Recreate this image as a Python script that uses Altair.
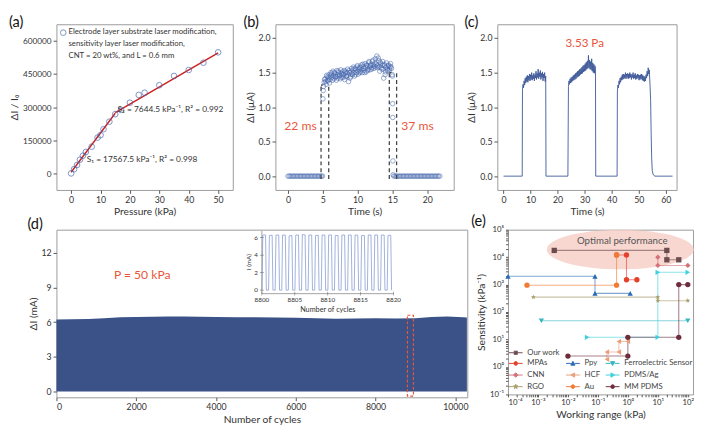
import altair as alt
import pandas as pd

FONT = "Lato"
NAVY = "#3a5288"
CIRC = "#4566ad"
RED = "#e8553a"
FIT = "#cc2222"
DASH = "#444444"

# ---------------- (a) ----------------
a_pressure = [0, 1, 2, 3, 4, 5, 7, 9, 10, 11, 13, 15, 17, 20, 23, 25, 30, 35, 40, 45, 50]
a_ratio = [0, 19000, 38000, 62000, 80000, 97000, 121000, 162000, 173000, 200000, 234000,
           268000, 287000, 320000, 355000, 365000, 399000, 441000, 468000, 501000, 548000]
a_fit_seg = ["S1", "S1", "S2", "S2"]
a_fit_p = [0, 15, 15, 50]
a_fit_v = [5000, 272000, 275000, 545000]
a_legend_text = ["Electrode layer substrate laser modification,\nsensitivity layer laser modification,\nCNT = 20 wt%, and L = 0.6 mm"]
a_legend_mark_p = [-2.7]
a_legend_mark_v = [637000]
a_legend_text_p = [-0.9]
a_legend_text_v = [656000]
a_notes = ["S\u2082 = 7644.5 kPa\u207b\u00b9, R\u00b2 = 0.992", "S\u2081 = 17567.5 kPa\u207b\u00b9, R\u00b2 = 0.998"]
a_note_p = [15.8, 5.3]
a_note_v = [289000, 65000]
a_xticks = [0, 10, 20, 30, 40, 50]
a_yticks = [0, 150000, 300000, 450000, 600000]

# ---------------- (b) ----------------
b_t_base1 = [0.0, 0.2, 0.4, 0.6, 0.8, 1.0, 1.2, 1.4, 1.6, 1.8, 2.0, 2.2, 2.4, 2.6, 2.8, 3.0,
             3.2, 3.4, 3.6, 3.8, 4.0, 4.2, 4.4, 4.6, 4.8]
b_t_rise = [4.95, 5.02, 5.06, 5.10]
b_v_rise = [0.0, 1.12, 1.24, 1.30]
b_t_plat = [5.20, 5.34, 5.48, 5.62, 5.76, 5.90, 6.04, 6.18, 6.32, 6.46,
            6.60, 6.74, 6.88, 7.02, 7.16, 7.30, 7.44, 7.58, 7.72, 7.86,
            8.00, 8.14, 8.28, 8.42, 8.56, 8.70, 8.84, 8.98, 9.12, 9.26,
            9.40, 9.54, 9.68, 9.82, 9.96, 10.10, 10.24, 10.38, 10.52, 10.66,
            10.80, 10.94, 11.08, 11.22, 11.36, 11.50, 11.64, 11.78, 11.92, 12.06,
            12.20, 12.34, 12.48, 12.62, 12.76, 12.90, 13.04, 13.18, 13.32, 13.46,
            13.60, 13.74, 13.88, 14.02, 14.16, 14.30, 14.44, 14.58, 14.72, 14.86]
b_v_plat = [1.36, 1.41, 1.33, 1.44, 1.38, 1.47, 1.40, 1.50, 1.43, 1.52,
            1.41, 1.49, 1.44, 1.53, 1.42, 1.50, 1.46, 1.54, 1.43, 1.51,
            1.47, 1.40, 1.52, 1.45, 1.55, 1.37, 1.50, 1.44, 1.56, 1.47,
            1.58, 1.45, 1.55, 1.50, 1.60, 1.48, 1.57, 1.52, 1.61, 1.50,
            1.59, 1.53, 1.63, 1.51, 1.60, 1.55, 1.66, 1.54, 1.62, 1.57,
            1.68, 1.56, 1.64, 1.58, 1.74, 1.57, 1.67, 1.52, 1.63, 1.55,
            1.66, 1.42, 1.60, 1.51, 1.64, 1.53, 1.61, 1.55, 1.63, 1.56]
b_t_plat2 = [5.27, 5.41, 5.55, 5.69, 5.83, 5.97, 6.11, 6.25, 6.39, 6.53,
             6.67, 6.81, 6.95, 7.09, 7.23, 7.37, 7.51, 7.65, 7.79, 7.93,
             8.07, 8.21, 8.35, 8.49, 8.63, 8.77, 8.91, 9.05, 9.19, 9.33,
             9.47, 9.61, 9.75, 9.89, 10.03, 10.17, 10.31, 10.45, 10.59, 10.73,
             10.87, 11.01, 11.15, 11.29, 11.43, 11.57, 11.71, 11.85, 11.99, 12.13,
             12.27, 12.41, 12.55, 12.69, 12.83, 12.97, 13.11, 13.25, 13.39, 13.53,
             13.67, 13.81, 13.95, 14.09, 14.23, 14.37, 14.51, 14.65, 14.79]
b_v_plat2 = [1.40, 1.37, 1.46, 1.39, 1.43, 1.35, 1.45, 1.48, 1.39, 1.46,
             1.50, 1.44, 1.39, 1.47, 1.52, 1.45, 1.41, 1.49, 1.47, 1.43,
             1.53, 1.49, 1.44, 1.50, 1.46, 1.53, 1.42, 1.51, 1.48, 1.54,
             1.50, 1.56, 1.47, 1.58, 1.52, 1.55, 1.50, 1.58, 1.54, 1.62,
             1.56, 1.50, 1.57, 1.61, 1.53, 1.64, 1.58, 1.60, 1.55, 1.66,
             1.61, 1.59, 1.70, 1.62, 1.60, 1.71, 1.59, 1.65, 1.57, 1.61,
             1.55, 1.62, 1.47, 1.58, 1.55, 1.60, 1.52, 1.59, 1.58]
b_t_fall = [14.95, 15.00, 15.03, 15.05, 15.07, 15.10]
b_v_fall = [1.47, 1.45, 1.05, 0.85, 0.22, 0.02]
b_t_base2 = [15.2, 15.4, 15.6, 15.8, 16.0, 16.2, 16.4, 16.6, 16.8, 17.0, 17.2, 17.4, 17.6, 17.8,
             18.0, 18.2, 18.4, 18.6, 18.8, 19.0, 19.2, 19.4, 19.6, 19.8, 20.0, 20.2, 20.4, 20.6,
             20.8, 21.0, 21.2, 21.4, 21.6, 21.8]
b_dash_x = [4.75, 5.85, 14.55, 15.6]
b_dash_top = [1.32, 1.30, 1.50, 1.50]
b_dash_bottom = [-0.04, -0.04, -0.04, -0.04]
b_cap_x1 = [4.75, 14.55]
b_cap_x2 = [5.0, 14.85]
b_cap_y = [1.32, 1.50]
b_notes = ["22 ms", "37 ms"]
b_note_t = [1.8, 18.6]
b_note_v = [0.72, 0.73]
b_xticks = [0, 5, 10, 15, 20]
b_yticks = [0.0, 0.5, 1.0, 1.5, 2.0]

# ---------------- (c) ----------------
c_t_p1 = [7.0, 7.2, 7.4, 7.6, 7.8, 8.0, 8.2, 8.4, 8.6, 8.8, 9.0, 9.2, 9.4, 9.6, 9.8, 10.0,
          10.2, 10.4, 10.6, 10.8, 11.0, 11.2, 11.4, 11.6, 11.8, 12.0, 12.2, 12.4, 12.6, 12.8,
          13.0, 13.2, 13.4, 13.6, 13.8, 14.0, 14.2, 14.4, 14.6, 14.8, 15.0, 15.2, 15.4, 15.6]
c_v_p1 = [1.25, 1.33, 1.28, 1.38, 1.32, 1.42, 1.35, 1.44, 1.37, 1.46, 1.36, 1.45, 1.39, 1.48,
          1.38, 1.47, 1.40, 1.50, 1.39, 1.46, 1.41, 1.49, 1.38, 1.47, 1.42, 1.52, 1.40, 1.49,
          1.43, 1.55, 1.41, 1.50, 1.44, 1.53, 1.40, 1.49, 1.43, 1.51, 1.38, 1.48, 1.42, 1.50,
          1.37, 1.45]
c_t_p2 = [24.0, 24.2, 24.4, 24.6, 24.8, 25.0, 25.2, 25.4, 25.6, 25.8, 26.0, 26.2, 26.4, 26.6,
          26.8, 27.0, 27.2, 27.4, 27.6, 27.8, 28.0, 28.2, 28.4, 28.6, 28.8, 29.0, 29.2, 29.4,
          29.6, 29.8, 30.0, 30.2, 30.4, 30.6, 30.8, 31.0, 31.2, 31.4, 31.6, 31.8, 32.0, 32.2,
          32.4, 32.6, 32.8, 33.0, 33.2, 33.4, 33.6, 33.8, 34.0]
c_v_p2 = [1.30, 1.38, 1.33, 1.41, 1.35, 1.43, 1.36, 1.44, 1.38, 1.46,
          1.39, 1.47, 1.40, 1.49, 1.41, 1.50, 1.43, 1.52, 1.44, 1.53,
          1.45, 1.55, 1.47, 1.56, 1.48, 1.58, 1.49, 1.60, 1.51, 1.61,
          1.52, 1.63, 1.53, 1.65, 1.55, 1.67, 1.56, 1.75, 1.57, 1.68,
          1.55, 1.66, 1.54, 1.70, 1.52, 1.64, 1.50, 1.62, 1.49, 1.60, 1.55]
c_t_p3 = [42.1, 42.3, 42.5, 42.7, 42.9, 43.1, 43.3, 43.5, 43.7, 43.9, 44.1, 44.3, 44.5, 44.7,
          44.9, 45.1, 45.3, 45.5, 45.7, 45.9, 46.1, 46.3, 46.5, 46.7, 46.9, 47.1, 47.3, 47.5,
          47.7, 47.9, 48.1, 48.3, 48.5, 48.7, 48.9, 49.1, 49.3, 49.5, 49.7, 49.9, 50.1, 50.3,
          50.5, 50.7, 50.9, 51.1, 51.3, 51.5, 51.7, 51.9, 52.1, 52.3, 52.5, 52.7, 52.9, 53.1,
          53.3, 53.5, 53.7, 53.9]
c_v_p3 = [1.22, 1.32, 1.28, 1.38, 1.33, 1.42, 1.36, 1.44, 1.39, 1.47,
          1.40, 1.48, 1.41, 1.47, 1.42, 1.50, 1.41, 1.48, 1.43, 1.49,
          1.41, 1.48, 1.42, 1.50, 1.43, 1.48, 1.40, 1.47, 1.43, 1.50,
          1.41, 1.47, 1.42, 1.49, 1.40, 1.46, 1.41, 1.48, 1.42, 1.47,
          1.39, 1.46, 1.40, 1.47, 1.41, 1.48, 1.39, 1.46, 1.38, 1.45,
          1.37, 1.44, 1.38, 1.47, 1.42, 1.52, 1.45, 1.57, 1.48, 1.54]
c_t_gaps = [[0.0, 6.9], [15.7, 23.8], [34.1, 42.0]]
c_t_tail = [54.2, 54.4, 54.6, 54.8, 55.0, 55.3, 55.6, 56.0, 62.5]
c_v_tail = [1.30, 1.10, 0.60, 0.25, 0.08, 0.03, 0.01, 0.0, 0.0]
c_xticks = [0, 10, 20, 30, 40, 50, 60]

# ---------------- (d) ----------------
d_cycles = [0, 400, 800, 1200, 1600, 2000, 2400, 2800, 3200, 3600, 4000, 4500, 5000, 5500,
            6000, 6500, 7000, 7500, 8000, 8500, 9000, 9400, 9800, 10200, 10290]
d_top = [6.24, 6.26, 6.28, 6.33, 6.42, 6.44, 6.47, 6.50, 6.49, 6.46, 6.44, 6.43, 6.43, 6.41,
         6.38, 6.34, 6.29, 6.31, 6.33, 6.31, 6.34, 6.44, 6.49, 6.43, 6.40]
d_box_x = [8800]
d_box_x2 = [8950]
d_box_y = [-0.4]
d_box_y2 = [6.6]
d_xticks = [0, 2000, 4000, 6000, 8000, 10000]
d_yticks = [0, 3, 6, 9, 12]
ins_cycle = [8800.0,
             8800.02, 8800.14, 8800.56, 8800.68, 8801.02, 8801.14, 8801.56, 8801.68,
             8802.02, 8802.14, 8802.56, 8802.68, 8803.02, 8803.14, 8803.56, 8803.68,
             8804.02, 8804.14, 8804.56, 8804.68, 8805.02, 8805.14, 8805.56, 8805.68,
             8806.02, 8806.14, 8806.56, 8806.68, 8807.02, 8807.14, 8807.56, 8807.68,
             8808.02, 8808.14, 8808.56, 8808.68, 8809.02, 8809.14, 8809.56, 8809.68,
             8810.02, 8810.14, 8810.56, 8810.68, 8811.02, 8811.14, 8811.56, 8811.68,
             8812.02, 8812.14, 8812.56, 8812.68, 8813.02, 8813.14, 8813.56, 8813.68,
             8814.02, 8814.14, 8814.56, 8814.68, 8815.02, 8815.14, 8815.56, 8815.68,
             8816.02, 8816.14, 8816.56, 8816.68, 8817.02, 8817.14, 8817.56, 8817.68,
             8818.02, 8818.14, 8818.56, 8818.68, 8819.02, 8819.14, 8819.56, 8819.68]
ins_current = [0.0,
               0, 6.30, 6.30, 0, 0, 6.25, 6.28, 0,
               0, 6.30, 6.30, 0, 0, 6.30, 6.28, 0,
               0, 6.20, 6.25, 0, 0, 6.30, 6.30, 0,
               0, 6.35, 6.32, 0, 0, 6.30, 6.30, 0,
               0, 6.25, 6.28, 0, 0, 6.30, 6.30, 0,
               0, 6.30, 6.30, 0, 0, 6.25, 6.25, 0,
               0, 6.30, 6.30, 0, 0, 6.30, 6.30, 0,
               0, 6.30, 6.28, 0, 0, 6.25, 6.25, 0,
               0, 6.30, 6.30, 0, 0, 6.30, 6.30, 0,
               0, 6.30, 6.30, 0, 0, 6.25, 6.28, 0]
ins_xticks = [8800, 8805, 8810, 8815, 8820]
ins_yticks = [0, 2, 4, 6]
ins_xmin, ins_xmax = 8800, 8820
ins_ymin, ins_ymax = -0.4, 6.8

# ---------------- (e) ----------------
e_series = {
    "Our work": ([0.0035, 20, 20, 50], [17600, 17600, 8000, 8000]),
    "MPAs": ([0.42, 0.9, 0.9, 2.0], [12000, 12000, 1500, 1500]),
    "Ppy": ([0.0001, 0.08, 0.08, 1.2], [2000, 2000, 480, 480]),
    "Ferroelectric Sensor": ([0.0013, 100], [48, 48]),
    "CNN": ([10, 10, 100], [10000, 5000, 5000]),
    "HCF": ([0.2, 0.2, 0.5, 0.5, 1.0], [1.9, 3.5, 3.5, 8.5, 8.5]),
    "PDMS/Ag": ([0.044, 10, 10, 100], [12, 12, 2800, 2800]),
    "RGO": ([0.0007, 10, 10, 100], [350, 350, 260, 260]),
    "Au": ([0.00043, 0.42, 0.42], [950, 950, 12000]),
    "MM PDMS": ([0.01, 1, 1, 50, 50, 100], [2.5, 2.5, 12, 12, 1000, 1000]),
}
e_names = ["Our work", "MPAs", "Ppy", "Ferroelectric Sensor", "CNN", "HCF", "PDMS/Ag", "RGO", "Au", "MM PDMS"]
e_colors = ["#6d4c4f", "#e5402b", "#2a6ab5", "#36b5c2", "#d4727a", "#e8a07c", "#3fd0de", "#a89e6c", "#f07b35", "#6e2c3c"]
STAR = "M0,-1L0.24,-0.33L0.95,-0.31L0.38,0.12L0.59,0.81L0,0.4L-0.59,0.81L-0.38,0.12L-0.95,-0.31L-0.24,-0.33Z"
e_shapes = ["square", "circle", "triangle-up", "triangle-down", "diamond", "triangle-left",
            "triangle-right", STAR, "circle", "circle"]
STUB = "M-2.6,0H-0.75M0.75,0H2.6"
P_SQ = "M-0.6,-0.6H0.6V0.6H-0.6Z"
P_CI = "M-0.7,0A0.7,0.7,0,1,0,0.7,0A0.7,0.7,0,1,0,-0.7,0Z"
P_TU = "M0,-0.8L0.8,0.65L-0.8,0.65Z"
P_TD = "M0,0.8L0.8,-0.65L-0.8,-0.65Z"
P_TL = "M-0.8,0L0.65,-0.8L0.65,0.8Z"
P_TR = "M0.8,0L-0.65,-0.8L-0.65,0.8Z"
P_DI = "M0,-0.85L0.85,0L0,0.85L-0.85,0Z"
P_ST = "M0,-0.9L0.22,-0.3L0.86,-0.28L0.34,0.11L0.53,0.73L0,0.36L-0.53,0.73L-0.34,0.11L-0.86,-0.28L-0.22,-0.3Z"
CLEAR = "rgba(0,0,0,0)"
# legend entries listed column by column (blank slots keep "Our work" alone on top)
leg_domain = ["Our work", "MPAs", "CNN", "RGO", " ", "Ppy", "HCF", "Au",
              "  ", "Ferroelectric Sensor", "PDMS/Ag", "MM PDMS"]
leg_colors = ["#6d4c4f", "#e5402b", "#d4727a", "#a89e6c", CLEAR, "#2a6ab5", "#e8a07c", "#f07b35",
              CLEAR, "#36b5c2", "#3fd0de", "#6e2c3c"]
leg_shapes = [STUB + P_SQ, STUB + P_CI, STUB + P_DI, STUB + P_ST, "M0,0", STUB + P_TU, STUB + P_TL,
              STUB + P_CI, "M0,0", STUB + P_TD, STUB + P_TR, STUB + P_CI]
e_ellipse_x = [0.56]
e_ellipse_y = [19000]
e_label = ["Optimal performance"]
e_label_x = [0.65]
e_label_y = [37000]
e_xdecades = [0.0001, 0.001, 0.01, 0.1, 1, 10, 100]
e_ydecades = [0.1, 1, 10, 100, 1000, 10000, 100000]
e_xlabels = ["10\u207b\u2074", "10\u207b\u00b3", "10\u207b\u00b2", "10\u207b\u00b9", "10\u2070", "10\u00b9", "10\u00b2"]
e_ylabels = ["10\u207b\u00b9", "10\u2070", "10\u00b9", "10\u00b2", "10\u00b3", "10\u2074", "10\u2075"]


def plabel(text, dx, dy):
    return alt.Chart(pd.DataFrame({"t": [text]})).mark_text(
        align="left", baseline="top", fontSize=15, font=FONT, color="#111").encode(
        x=alt.value(dx), y=alt.value(dy), text="t:N")


# ======== build (a) ========
df_a = pd.DataFrame({"x": a_pressure, "y": a_ratio})
df_fit = pd.DataFrame({"x": a_fit_p, "y": a_fit_v, "seg": a_fit_seg})
df_alm = pd.DataFrame({"x": a_legend_mark_p, "y": a_legend_mark_v})
df_alt = pd.DataFrame({"x": a_legend_text_p, "y": a_legend_text_v, "t": a_legend_text})
df_an = pd.DataFrame({"x": a_note_p, "y": a_note_v, "t": a_notes})
xa = alt.X("x:Q", scale=alt.Scale(domain=[-5, 55], nice=False, zero=False),
           axis=alt.Axis(values=a_xticks, title="Pressure (kPa)"))
ya = alt.Y("y:Q", scale=alt.Scale(domain=[-75000, 675000], nice=False, zero=False),
           axis=alt.Axis(values=a_yticks, format="d", title="\u0394I / I\u2080", labelFontSize=8.5))
a_fit_l = alt.Chart(df_fit).mark_line(color=FIT, strokeWidth=1.5).encode(x=xa, y=ya, detail="seg:N")
a_pts = alt.Chart(df_a).mark_point(shape="circle", filled=False, size=34, strokeWidth=1, color=CIRC).encode(x=xa, y=ya)
a_lm = alt.Chart(df_alm).mark_point(shape="circle", filled=False, size=34, strokeWidth=1, color=CIRC).encode(x=xa, y=ya)
a_lt = alt.Chart(df_alt).mark_text(align="left", baseline="top", lineBreak="\n", lineHeight=12.5,
                                    fontSize=8.0, color="#333", font=FONT).encode(x=xa, y=ya, text="t:N")
a_nt = alt.Chart(df_an).mark_text(align="left", baseline="middle", fontSize=8.6, color="#333",
                                   font=FONT).encode(x=xa, y=ya, text="t:N")
panel_a = alt.layer(a_fit_l, a_pts, a_lm, a_lt, a_nt, plabel("(a)", -49, -9)).properties(width=182, height=171)

# ======== build (b) ========
b_t = b_t_base1 + b_t_rise + b_t_plat + b_t_plat2 + b_t_fall + b_t_base2
b_v = ([0.0 for _ in b_t_base1] + b_v_rise + b_v_plat + b_v_plat2 + b_v_fall
       + [0.0 for _ in b_t_base2])
df_b = pd.DataFrame({"x": b_t, "y": b_v})
df_bd = pd.DataFrame({"x": b_dash_x, "y": b_dash_bottom, "y2": b_dash_top})
df_bc = pd.DataFrame({"x": b_cap_x1, "x2": b_cap_x2, "y": b_cap_y})
df_bn = pd.DataFrame({"x": b_note_t, "y": b_note_v, "t": b_notes})
xb = alt.X("x:Q", scale=alt.Scale(domain=[-1.8, 23.8], nice=False, zero=False),
           axis=alt.Axis(values=b_xticks, title="Time (s)"))
yb = alt.Y("y:Q", scale=alt.Scale(domain=[-0.2, 2.2], nice=False, zero=False),
           axis=alt.Axis(values=b_yticks, format=".1f", title="\u0394I (\u03bcA)"))
b_pts = alt.Chart(df_b).mark_point(shape="circle", filled=False, size=22, strokeWidth=0.8, color=CIRC).encode(x=xb, y=yb)
b_dl = alt.Chart(df_bd).mark_rule(color=DASH, strokeDash=[4, 3], strokeWidth=1.3).encode(x=xb, y=yb, y2="y2:Q")
b_cl = alt.Chart(df_bc).mark_rule(color=DASH, strokeDash=[4, 3], strokeWidth=1.3).encode(x=xb, x2="x2:Q", y=yb)
b_nt = alt.Chart(df_bn).mark_text(fontSize=12.5, color=RED, font=FONT).encode(x=xb, y=yb, text="t:N")
panel_b = alt.layer(b_pts, b_dl, b_cl, b_nt, plabel("(b)", -33, -9)).properties(width=184, height=171)

# ======== build (c) ========
c_t = c_t_gaps[0] + c_t_p1 + c_t_gaps[1] + c_t_p2 + c_t_gaps[2] + c_t_p3 + c_t_tail
c_v = [0.0, 0.0] + c_v_p1 + [0.0, 0.0] + c_v_p2 + [0.0, 0.0] + c_v_p3 + c_v_tail
df_c = pd.DataFrame({"x": c_t, "y": c_v, "i": list(range(len(c_t)))})
df_cn = pd.DataFrame({"x": [30], "y": [1.93], "t": ["3.53 Pa"]})
xc = alt.X("x:Q", scale=alt.Scale(domain=[-2.3, 64.0], nice=False, zero=False),
           axis=alt.Axis(values=c_xticks, title="Time (s)"))
yc = alt.Y("y:Q", scale=alt.Scale(domain=[-0.2, 2.2], nice=False, zero=False),
           axis=alt.Axis(values=b_yticks, format=".1f", title="\u0394I (\u03bcA)"))
c_line = alt.Chart(df_c).mark_line(color="#3b5596", strokeWidth=0.9).encode(x=xc, y=yc, order="i:Q")
c_nt = alt.Chart(df_cn).mark_text(fontSize=12, color=RED, font=FONT).encode(x=xc, y=yc, text="t:N")
panel_c = alt.layer(c_line, c_nt, plabel("(c)", -34, -9)).properties(width=185, height=171)

# ======== build (d) ========
df_d = pd.DataFrame({"x": d_cycles, "y": d_top})
df_db = pd.DataFrame({"x": d_box_x, "x2": d_box_x2, "y": d_box_y, "y2": d_box_y2})
df_dn = pd.DataFrame({"x": [2150], "y": [10.1], "t": ["P = 50 kPa"]})
df_in = pd.DataFrame({"x": ins_cycle, "y": ins_current, "i": list(range(len(ins_cycle)))})
xd = alt.X("x:Q", scale=alt.Scale(domain=[0, 10300], nice=False, zero=False),
           axis=alt.Axis(values=d_xticks, format="d", title="Number of cycles"))
yd = alt.Y("y:Q", scale=alt.Scale(domain=[-0.5, 14], nice=False, zero=False),
           axis=alt.Axis(values=d_yticks, title="\u0394I (mA)"))
d_area = alt.Chart(df_d).mark_area(color=NAVY, opacity=1).encode(x=xd, y=yd, y2=alt.datum(0))
d_box = alt.Chart(df_db).mark_rect(fillOpacity=0, stroke=RED, strokeDash=[3, 2], strokeWidth=1.2).encode(
    x=xd, x2="x2:Q", y=yd, y2="y2:Q")
d_nt = alt.Chart(df_dn).mark_text(fontSize=12.5, color=RED, font=FONT).encode(x=xd, y=yd, text="t:N")
d_main = alt.layer(d_area, d_box, d_nt, plabel("(d)", -30, -13))

# inset: its own scales placed inside panel (d), with hand-built axes drawn through those scales
xi = alt.X("x:Q", scale=alt.Scale(domain=[ins_xmin, ins_xmax], range=[212, 348], nice=False, zero=False), axis=None)
yi = alt.Y("y:Q", scale=alt.Scale(domain=[ins_ymin, ins_ymax], range=[66, 1], nice=False, zero=False), axis=None)
IAX = "#8a8a8a"
df_ix = pd.DataFrame({"x": ins_xticks, "y": [ins_ymin for _ in ins_xticks], "t": [str(v) for v in ins_xticks]})
df_iy = pd.DataFrame({"x": [ins_xmin for _ in ins_yticks], "y": ins_yticks, "t": [str(v) for v in ins_yticks]})
df_ibase = pd.DataFrame({"x": [ins_xmin], "x2": [ins_xmax], "y": [ins_ymin], "y2": [ins_ymax]})
df_ixt = pd.DataFrame({"x": [(ins_xmin + ins_xmax) / 2], "y": [ins_ymin], "t": ["Number of cycles"]})
df_iyt = pd.DataFrame({"x": [ins_xmin], "y": [3.2], "t": ["I (mA)"]})
i_line = alt.Chart(df_in).mark_line(color="#94a6d6", strokeWidth=0.9).encode(x=xi, y=yi, order="i:Q")
i_xdom = alt.Chart(df_ibase).mark_rule(color=IAX, strokeWidth=0.8).encode(x=xi, x2="x2:Q", y=yi)
i_ydom = alt.Chart(df_ibase).mark_rule(color=IAX, strokeWidth=0.8).encode(x=xi, y=yi, y2="y2:Q")
i_xtk = alt.Chart(df_ix).mark_tick(orient="vertical", size=4, thickness=0.7, color="#555").encode(x=xi, y=yi)
i_ytk = alt.Chart(df_iy).mark_tick(orient="horizontal", size=4, thickness=0.7, color="#555").encode(x=xi, y=yi)
i_xlb = alt.Chart(df_ix).mark_text(baseline="top", dy=4, fontSize=6.5, color="#333", font=FONT).encode(
    x=xi, y=yi, text="t:N")
i_ylb = alt.Chart(df_iy).mark_text(align="right", baseline="middle", dx=-4, fontSize=6.5, color="#333",
                                   font=FONT).encode(x=xi, y=yi, text="t:N")
i_xtt = alt.Chart(df_ixt).mark_text(baseline="top", dy=13, fontSize=7.5, color="#333", font=FONT).encode(
    x=xi, y=yi, text="t:N")
i_ytt = alt.Chart(df_iyt).mark_text(angle=270, baseline="bottom", dy=-10, fontSize=6.5, color="#333",
                                    font=FONT).encode(x=xi, y=yi, text="t:N")
d_ins = alt.layer(i_line, i_xdom, i_ydom, i_xtk, i_ytk, i_xlb, i_ylb, i_xtt, i_ytt)
panel_d = alt.layer(d_main, d_ins).resolve_scale(x="independent", y="independent").properties(
    width=424, height=173)

# ======== build (e) ========
rows = []
for name in e_names:
    xs, ys = e_series[name]
    for i, (xv, yv) in enumerate(zip(xs, ys)):
        rows.append({"s": name, "i": i, "x": xv, "y": yv})
df_e = pd.DataFrame(rows)
df_ell = pd.DataFrame({"x": e_ellipse_x, "y": e_ellipse_y})
df_el = pd.DataFrame({"x": e_label_x, "y": e_label_y, "t": e_label})
e_xticks = [m * d for d in e_xdecades for m in range(1, 10) if m * d <= 150]
e_yticks = [m * d for d in e_ydecades for m in range(1, 10) if m * d <= 100000]
xlab_expr = ("abs(log(datum.value)/LN10 - round(log(datum.value)/LN10)) > 0.01 ? '' : "
             + str(e_xlabels) + "[round(log(datum.value)/LN10)+4]")
ylab_expr = ("abs(log(datum.value)/LN10 - round(log(datum.value)/LN10)) > 0.01 ? '' : "
             + str(e_ylabels) + "[round(log(datum.value)/LN10)+1]")
xe = alt.X("x:Q", scale=alt.Scale(type="log", domain=[0.0001, 150], nice=False),
           axis=alt.Axis(values=e_xticks, labelExpr=xlab_expr, labelOverlap=False, title="Working range (kPa)",
                         tickSize=2.5, labelFontSize=8))
ye = alt.Y("y:Q", scale=alt.Scale(type="log", domain=[0.1, 100000], nice=False),
           axis=alt.Axis(values=e_yticks, labelExpr=ylab_expr, labelOverlap=False,
                         title="Sensitivity (kPa\u207b\u00b9)", tickSize=2.5, labelFontSize=8))
ELL = "M-1,0A1,0.27,0,1,0,1,0A1,0.27,0,1,0,-1,0Z"
e_ell = alt.Chart(df_ell).mark_point(shape=ELL, size=23000, filled=True, color="#f5cdc4", opacity=0.8,
                                     strokeWidth=0).encode(x=xe, y=ye)
e_lab = alt.Chart(df_el).mark_text(fontSize=10, color="#555", font=FONT).encode(x=xe, y=ye, text="t:N")
cscale = alt.Scale(domain=e_names, range=e_colors)
e_lines = alt.Chart(df_e).mark_line(strokeWidth=1.1, opacity=0.6).encode(
    x=xe, y=ye, color=alt.Color("s:N", scale=cscale, legend=None), detail="s:N", order="i:Q")
e_point_layers = []
for name, col, shp in zip(e_names, e_colors, e_shapes):
    e_point_layers.append(
        alt.Chart(df_e).transform_filter(alt.datum.s == name).mark_point(
            filled=True, size=30, opacity=1, shape=shp, color=col).encode(x=xe, y=ye))
LEG = alt.Legend(title=None, orient="bottom-left", columns=3, offset=4, padding=0, labelFontSize=8,
                 labelColor="#444", symbolSize=30, symbolStrokeWidth=1, labelOffset=8, rowPadding=2,
                 columnPadding=3, labelLimit=140, labelFont=FONT)
e_leg = alt.Chart(df_e).transform_filter("false").mark_point(filled=True, opacity=1).encode(
    x=xe, y=ye,
    fill=alt.Fill("s:N", scale=alt.Scale(domain=leg_domain, range=leg_colors), legend=LEG),
    stroke=alt.Stroke("s:N", scale=alt.Scale(domain=leg_domain, range=leg_colors), legend=LEG),
    shape=alt.Shape("s:N", scale=alt.Scale(domain=leg_domain, range=leg_shapes), legend=LEG))
panel_e = alt.layer(e_ell, e_lab, e_lines, *e_point_layers, e_leg, plabel("(e)", -38, -16)).properties(
    width=191, height=170)

IND = dict(fill="independent", stroke="independent", shape="independent", color="independent")
row1 = alt.hconcat(panel_a, panel_b, panel_c, spacing=9)
row2 = alt.hconcat(panel_d, panel_e, spacing=1).resolve_scale(**IND).resolve_legend(**IND)
chart = alt.vconcat(row1, row2, spacing=-5).resolve_scale(**IND).resolve_legend(**IND).properties(
    padding={"left": 0, "top": 0, "right": 0, "bottom": 0}, background="white"
).configure(font=FONT).configure_view(stroke="#9a9a9a", strokeWidth=1).configure_axis(
    grid=False, domain=False, labelFontSize=9, titleFontSize=10.5, labelColor="#333", titleColor="#333",
    tickColor="#555", tickSize=3.5, titleFontWeight="normal", labelPadding=2, titlePadding=3,
    labelFont=FONT, titleFont=FONT)

chart.save("out.html", embed_options={"renderer": "svg", "actions": False})
